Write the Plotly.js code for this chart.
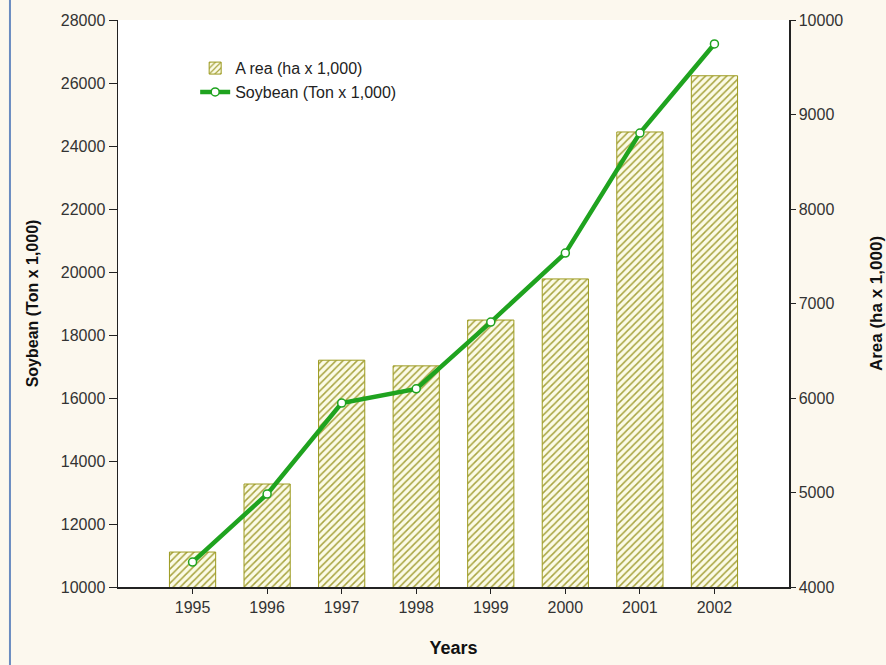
<!DOCTYPE html>
<html><head><meta charset="utf-8">
<script src="https://cdn.plot.ly/plotly-3.0.1.min.js"></script>
<style>html,body{margin:0;padding:0;background:#fcf8ee;}#chart{width:886px;height:665px;}</style>
</head><body><div id="chart"></div>
<script>
const years = ['1995','1996','1997','1998','1999','2000','2001','2002'];
const areaHa = [4370, 5090, 6400, 6340, 6825, 7260, 8815, 9410];
const soybeanTon = [10790, 12950, 15840, 16290, 18410, 20600, 24410, 27240];

const font = {family: 'Arial, Liberation Sans, sans-serif', size: 14, color: '#222'};

const traces = [
  {type: 'bar', x: years, y: areaHa, name: 'A rea (ha x 1,000)', yaxis: 'y', width: 0.62,
   marker: {color: '#fbfbe6', line: {color: '#9c9a1e', width: 1},
            pattern: {shape: '/', fgcolor: '#a8a440', bgcolor: '#fbfbe6', size: 5, solidity: 0.3}}},
  {type: 'scatter', mode: 'lines+markers', x: years, y: soybeanTon, name: 'Soybean (Ton x 1,000)', yaxis: 'y2',
   line: {color: '#1fa31f', width: 4.5},
   marker: {symbol: 'circle', size: 8, color: '#ffffff', line: {color: '#1fa31f', width: 1.5}}}
];

const tf = {size: 16, color: '#333'};
const layout = {
  width: 886, height: 665,
  paper_bgcolor: '#fcf8ee', plot_bgcolor: '#ffffff',
  margin: {l: 118, r: 97, t: 20, b: 78},
  font: font, showlegend: true,
  legend: {x: 0.115, y: 0.945, xanchor: 'left', yanchor: 'top', bgcolor: 'rgba(255,255,255,0)',
           font: {family: 'Arial, Liberation Sans, sans-serif', size: 16, color: '#222'}, tracegroupgap: 2, traceorder: 'normal'},
  xaxis: {type: 'category', range: [-1, 8], showgrid: false, showline: true, linecolor: '#222', linewidth: 1.5,
          ticks: 'outside', ticklen: 5, tickcolor: '#222', zeroline: false,
          tickfont: tf,
          title: {text: '<b>Years</b>', font: {size: 18, color: '#111'}, standoff: 26}},
  yaxis: {range: [4000, 10000], dtick: 1000, side: 'right', showgrid: false, showline: true,
          linecolor: '#222', linewidth: 1.5, ticks: 'outside', ticklen: 5, tickcolor: '#222', zeroline: false,
          tickformat: 'd', tickfont: tf,
          title: {text: '<b>Area (ha x 1,000)</b>', font: {size: 17, color: '#111'}, standoff: 28}},
  yaxis2: {range: [10000, 28000], dtick: 2000, overlaying: 'y', side: 'left', showgrid: false, showline: true,
          linecolor: '#222', linewidth: 1.5,
          ticks: 'outside', ticklen: 8, tickcolor: '#222', zeroline: false, tickformat: 'd',
          tickfont: tf,
          title: {text: '<b>Soybean (Ton x 1,000)</b>', font: {size: 16, color: '#111'}, standoff: 18}},
  shapes: [{type: 'line', xref: 'paper', yref: 'paper', x0: -0.161, x1: -0.161, y0: -0.2, y1: 1.1,
            line: {color: '#6a8cc0', width: 2}}]
};
Plotly.newPlot('chart', traces, layout, {staticPlot: true});
</script></body></html>
